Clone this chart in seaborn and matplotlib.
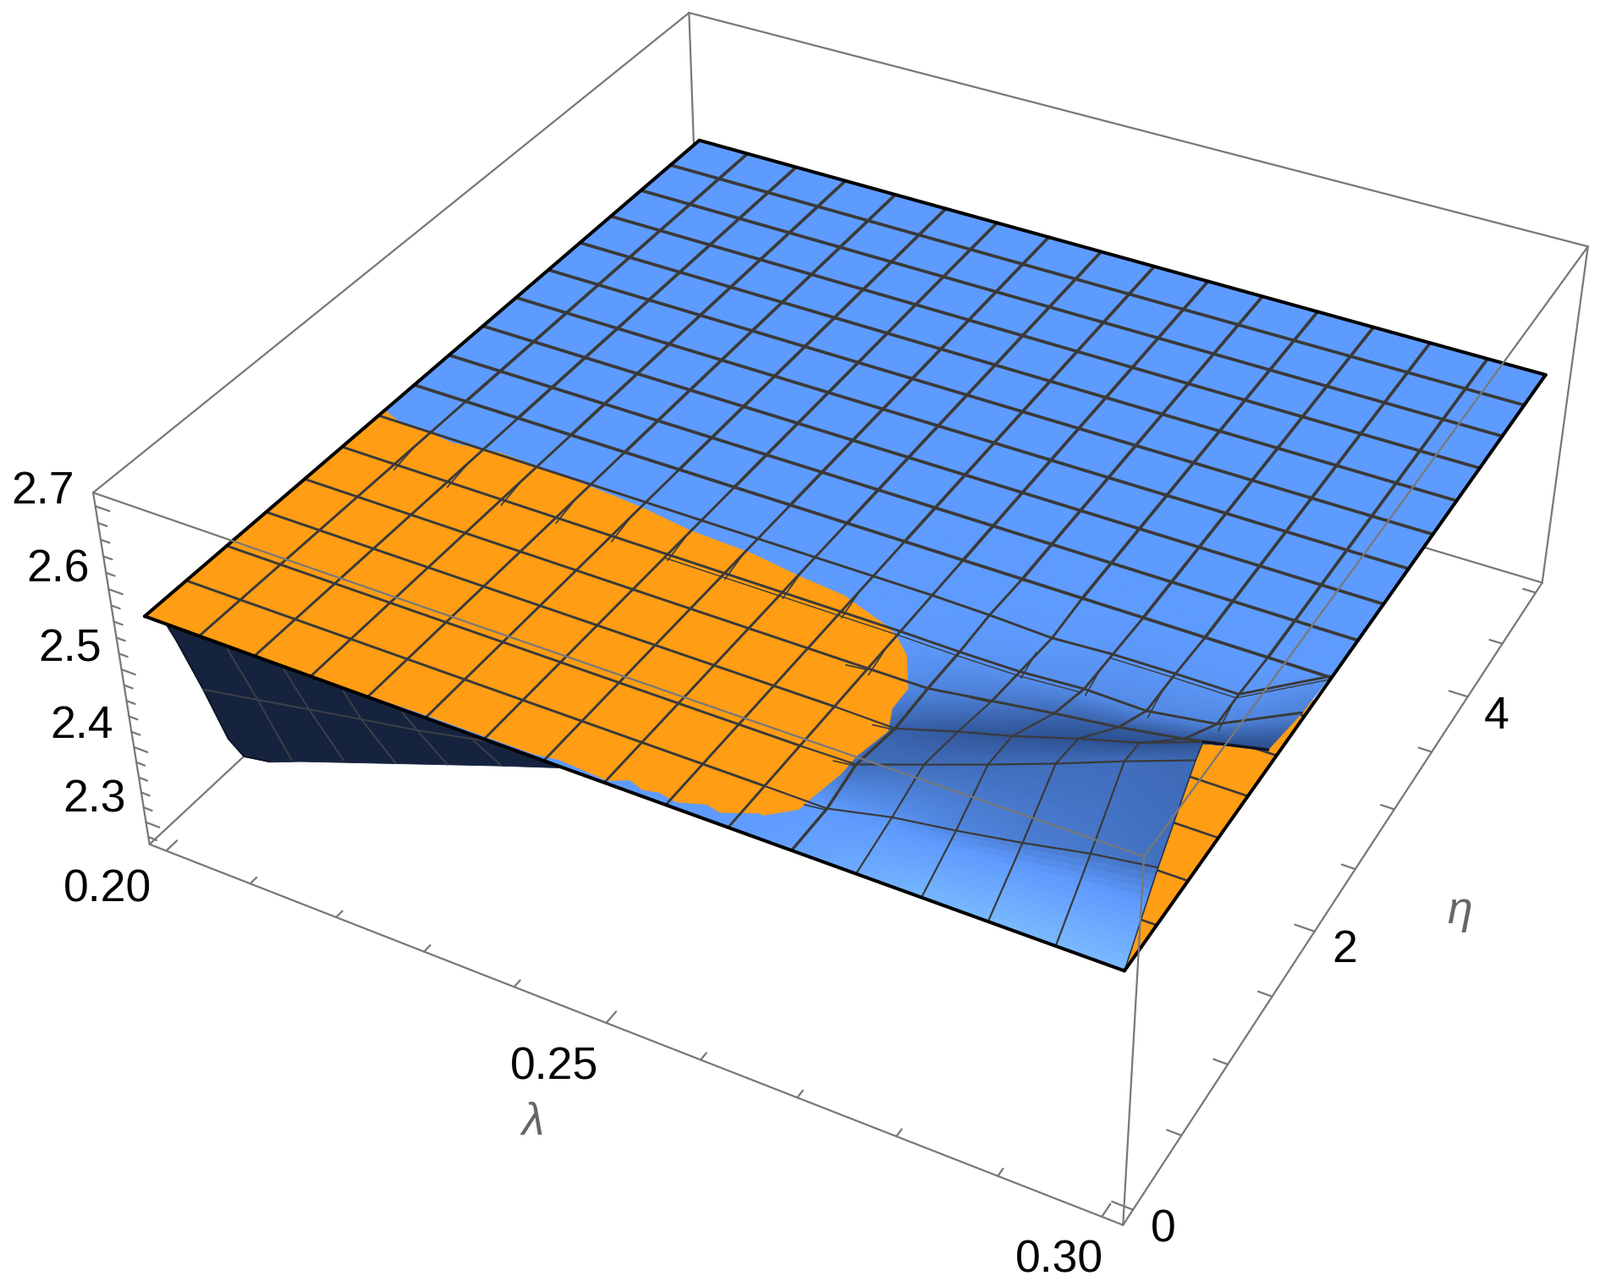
import numpy as np, matplotlib
matplotlib.use('Agg')
import matplotlib.pyplot as plt
import seaborn as sns
from mpl_toolkits.mplot3d.art3d import Poly3DCollection

LAMBDA_NODES=[.2,.20625,.2125,.21875,.225,.23125,.2375,.24375,.25,.25625,.2625,.26875,.275,.28125,.2875,.29375,.3]
ETA_NODES=[0,.3125,.625,.9375,1.25,1.5625,1.875,2.1875,2.5,2.8125,3.125,3.4375,3.75,4.0625,4.375,4.6875,5]
Z_LEVEL=[2.560,2.5599,2.5598,2.5597,2.5596,2.5595,2.5594,2.5593,2.5592,2.5591,2.559,2.5589,2.5588,2.5587,2.5586,2.5585,2.5585]
FOLD_I=[11,12,13,14,15,16]
FOLD_ETA=[[.31,.57,.93,1.24,1.55,1.85],[.32,.61,.93,1.26,1.54,1.87],[.31,.60,.83,1.25,1.56,1.86],
          [.31,.61,.83,1.25,1.55,1.86],[.31,.61,.76,1.25,1.62,1.86],[.29,.62,.69,1.45,1.84,2.17]]
FOLD_Z=[[2.559,2.571,2.559,2.561,2.560,2.562],[2.574,2.591,2.581,2.568,2.562,2.555],[2.587,2.619,2.617,2.580,2.563,2.561],
        [2.600,2.645,2.640,2.589,2.563,2.562],[2.615,2.674,2.672,2.601,2.562,2.562],[2.630,2.700,2.710,2.583,2.568,2.563]]
# lightness of the sheet at nodes i=10..16 (columns), j=0..7 (rows); negative = darker
SHADE=[[.0,.15,.5,.8,.9,.9,.9],
       [.0,.0,-.1,-.25,-.35,-.42,-.5],
       [-.3,-.55,-.55,-.55,-.55,-.55,-.6],
       [-.2,-.7,-.8,-.85,-.9,-.9,-.9],
       [-.05,-.25,-.4,-.6,-.75,-.8,-.95],
       [0,-.05,-.1,-.15,-.2,-.25,-.3],
       [0,0,0,-.05,-.05,-.05,-.1],
       [0,0,0,0,0,0,0]]
ORANGE_L=[0.2008,0.2023,0.2062,0.2091,0.2142,0.2188,0.2251,0.2314,0.2373,0.2442,0.2456,0.2501,0.2552,0.2609,0.2623,0.2646,0.267,0.2671,0.2683,0.2675,0.2675,0.2668,0.2666,0.2642,0.264,0.2608,0.2593,0.2568,0.2548,0.2534,0.2517,0.25,0.2448,0.2424,0.2388,0.2361,0.2311,0.222,0.2,0.2]
ORANGE_E=[1.91,1.88,1.87,1.85,1.89,1.88,1.86,1.83,1.78,1.76,1.75,1.71,1.68,1.57,1.53,1.42,1.21,1.05,0.9,0.68,0.55,0.34,0.25,0.14,0.15,0.07,0.09,0.04,0.06,0.04,0.07,0.02,0.04,0.02,0.02,0.02,0.02,0.01,0.0,1.93]
CURTAIN_L=[0.2025,0.2034,0.2058,0.208,0.2096,0.2127,0.2163,0.2389,0.2454]
CURTAIN_Z=[2.559,2.543,2.491,2.437,2.421,2.427,2.443,2.533,2.558]
CURTAIN_LINES_L=[[.2058,.2122,.2181,.2240,.2302,.2382],[.2094,.2122,.2153],[.2157,.2181,.2214],[.2223,.2240,.2274],[.2287,.2302,.2332],[.2363,.2391]]
CURTAIN_LINES_Z=[[2.491,2.504,2.516,2.528,2.540,2.559],[2.556,2.504,2.440],[2.557,2.516,2.466],[2.556,2.528,2.487],[2.556,2.540,2.510],[2.553,2.534]]
HOOK_I=[1,2,3,4,5,6,7,8,9,10,12,13,14,15]
HOOK_J=[5,5,5,5,5,5,5,5,5,4,5,5,5,5]
SPUR_I=[11,11,11,10,12]
SPUR_J=[1,2,3,4,4]
Z_MAJOR=[2.3,2.4,2.5,2.6,2.7]
Z_MINOR=[2.28,2.32,2.34,2.36,2.38,2.42,2.44,2.46,2.48,2.52,2.54,2.56,2.58,2.62,2.64,2.66,2.68]
L_MAJOR=[.20,.25,.30]
L_MINOR=[.21,.22,.23,.24,.26,.27,.28,.29]
E_MAJOR=[0,2,4]
E_MINOR=[.5,1,1.5,2.5,3,3.5,4.5,5]

W,H=1891,1521
sns.set_theme(style='white')
plt.rcParams['font.family']=['Liberation Sans','DejaVu Sans']
fig=plt.figure(figsize=(W/100,H/100),dpi=100)
ax=fig.add_subplot(projection='3d',computed_zorder=False)
l0,l1=.198,.302;e0,e1=-.1,5.1;z0,z1=2.27,2.716
ax.set_xlim3d(l0,l1,view_margin=0);ax.set_ylim3d(e0,e1,view_margin=0);ax.set_zlim3d(z0,z1,view_margin=0)
ax.view_init(36.1556,-61.5182,0.0634)
ax.set_proj_type('persp',focal_length=np.exp(-.8315))
ax.set_box_aspect((np.exp(.9133),np.exp(.915),1))
ax.set_axis_off()
S,TX,TY=9676.395,1038.034,881.139
vx0,vx1=ax.viewLim.intervalx;vy0,vy1=ax.viewLim.intervaly
ax.set_position([(TX+S*vx0)/W,(TY+S*vy0)/H,S*(vx1-vx0)/W,S*(vy1-vy0)/H])

GRAY='#787878';MESH='#3a3a3a';BLUE='#5E9BFF';ORANGE='#FF9D14'
cmap=sns.blend_palette(['#274886',BLUE,'#7CBDFF'],as_cmap=True)
def line(x,y,z,c=GRAY,lw=1.6,zo=1,**k):
    ax.plot(x,y,z,color=c,lw=lw,zorder=zo,clip_on=False,solid_capstyle='round',**k)
def poly(verts,fc,zo,ec=None,lw=.6):
    col=Poly3DCollection(verts,facecolors=fc,edgecolors=fc if ec is None else ec,linewidths=lw,zorder=zo,clip_on=False)
    ax.add_collection3d(col,autolim=False)

# back of the box
line([l0,l0],[e1,e1],[z0,z1]);line([l0,l1],[e1,e1],[z1,z1]);line([l0,l0],[e0,e1],[z1,z1])
line([l0,l0],[e0,e1],[z0,z0]);line([l0,l1],[e1,e1],[z0,z0])

# dark underside
poly([list(zip(CURTAIN_L,[0]*len(CURTAIN_L),CURTAIN_Z))],'#15233F',2)
line(CURTAIN_L[:6],[0]*6,CURTAIN_Z[:6],c='#0b1220',lw=1.2,zo=2)
for a,b in zip(CURTAIN_LINES_L,CURTAIN_LINES_Z):
    line(a,[0]*len(a),b,c='#3d4046',lw=1.4,zo=3)

Lam=np.array(LAMBDA_NODES);Eta=np.array(ETA_NODES);Zl=np.array(Z_LEVEL)
ni,nj=len(Lam),len(Eta)
L=np.repeat(Lam[:,None],nj,1);E=np.repeat(Eta[None,:],ni,0);Z=np.repeat(Zl[:,None],nj,1)
for a,i in enumerate(FOLD_I):
    E[i,1:7]=FOLD_ETA[a];Z[i,1:7]=FOLD_Z[a]
Sh=np.zeros((ni,nj));Sh[10:17,0:8]=np.array(SHADE).T

# orange sheet that shows beyond the fold
poly([[(.27,0,Zl[12]),(.3,0,Zl[16]),(.3,2,Zl[16]),(.27,2,Zl[12])]],ORANGE,4)
for j in range(1,7):
    line([.27,.3],[Eta[j]]*2,[Zl[16]]*2,c=MESH,lw=1.9,zo=5)

# blue sheet
verts=[];cols=[]
for i in range(ni-1):
    for j in range(nj-1):
        n=14 if (i>=9 and j<=7) else 1
        t=np.linspace(0,1,n+1)
        def bil(A,u,v):
            return (1-u)*(1-v)*A[i,j]+u*(1-v)*A[i+1,j]+(1-u)*v*A[i,j+1]+u*v*A[i+1,j+1]
        for a in range(n):
            for b in range(n):
                qs=[(t[a],t[b]),(t[a+1],t[b]),(t[a+1],t[b+1]),(t[a],t[b+1])]
                verts.append([(bil(L,u,v),bil(E,u,v),bil(Z,u,v)) for u,v in qs])
                s=bil(Sh,(t[a]+t[a+1])/2,(t[b]+t[b+1])/2)
                cols.append(cmap((s+1)/2))
poly(verts,cols,6)

# orange patch on the flat part
oz=[np.interp(v,Lam,Zl) for v in ORANGE_L]
poly([list(zip(ORANGE_L,ORANGE_E,oz))],ORANGE,7)

# mesh
for i in range(1,ni-1):
    for j in range(nj-1):
        if i==11 and j<=4: lw=2.5
        elif i>=12 and j<=3: lw=1.6
        else: lw=2.7 if j>=7 else 2.1
        line(L[i,j:j+2],E[i,j:j+2],Z[i,j:j+2],c=MESH,lw=lw,zo=8)
for j in range(1,nj-1):
    for i in range(ni-1):
        lw=1.6 if (i>=10 and j<=3) else (2.7 if j>=7 else 2.1)
        line(L[i:i+2,j],E[i:i+2,j],Z[i:i+2,j],c=MESH,lw=lw,zo=8)
# hooks and doubled strands on the mesh where the two sheets meet
for i,j in zip(HOOK_I,HOOK_J):
    line([L[i,j]+.0005,L[i,j]+.00005],[E[i,j]-.04,E[i,j]+.16],[Z[i,j],Z[i,j]],c=MESH,lw=1.2,zo=8)
for i,j in zip(SPUR_I,SPUR_J):
    line([L[i,j]-.002,L[i,j]],[E[i,j]-.025,E[i,j]-.01],[Z[i,j],Z[i,j]],c=MESH,lw=1.2,zo=8)
line(L[6:14,5],E[6:14,5]-.03,Z[6:14,5],c=MESH,lw=1.0,zo=8)
line(L[13:17,6],E[13:17,6]-.03,Z[13:17,6],c=MESH,lw=1.0,zo=8)
# sheet outline
line(L[16,0:4],E[16,0:4],Z[16,0:4],c='#22304e',lw=1.1,zo=8.5)
line(L[16,3:5],E[16,3:5],Z[16,3:5],c='#0d1526',lw=2.4,zo=8.5)
EK='black'
line(Lam,[0]*ni,Zl,c=EK,lw=2.9,zo=9)
line(Lam,[5]*ni,Zl,c=EK,lw=2.9,zo=9)
line([.2,.2],[0,5],[Zl[0]]*2,c=EK,lw=2.9,zo=9)
line([.3,.3],[0,5],[Zl[16]]*2,c=EK,lw=2.9,zo=9)

# front of the box
line([l0,l0],[e0,e0],[z0,z1],zo=10);line([l1,l1],[e0,e0],[z0,z1],zo=10);line([l1,l1],[e1,e1],[z0,z1],zo=10)
line([l0,l1],[e0,e0],[z0,z0],zo=10);line([l0,l1],[e0,e0],[z1,z1],zo=10)
line([l1,l1],[e0,e1],[z0,z0],zo=10);line([l1,l1],[e0,e1],[z1,z1],zo=10)
for v,t in [(a,.0016) for a in Z_MAJOR]+[(a,.001) for a in Z_MINOR]:
    line([l0,l0+t],[e0,e0],[v,v],zo=10)
for v,t in [(a,.085) for a in L_MAJOR]+[(a,.05) for a in L_MINOR]:
    line([v,v],[e0,e0+t],[z0,z0],zo=10)
for v,t in [(a,.002) for a in E_MAJOR]+[(a,.0014) for a in E_MINOR]:
    line([l1,l1-t],[v,v],[z0,z0],zo=10)

def label(s,x,y,**k):
    fig.text(x/W,1-y/H,s,fontsize=38.5,ha=k.pop('ha','center'),va='center',zorder=20,**k)
for s,x,y in [('2.7',88,581),('2.6',106,673),('2.5',120,768),('2.4',134,858),('2.3',149,946)]:
    label(s,x,y,ha='right',color='black')
for s,x,y in [('0.20',127,1052),('0.25',655,1261),('0.30',1252,1490),('0',1375,1453),('2',1589,1123),('4',1769,847)]:
    label(s,x,y,color='black')
label('λ',630,1327,color='#666666',style='italic')
label('η',1725,1077,color='#666666',style='italic')
fig.savefig('out.png',dpi=100)
